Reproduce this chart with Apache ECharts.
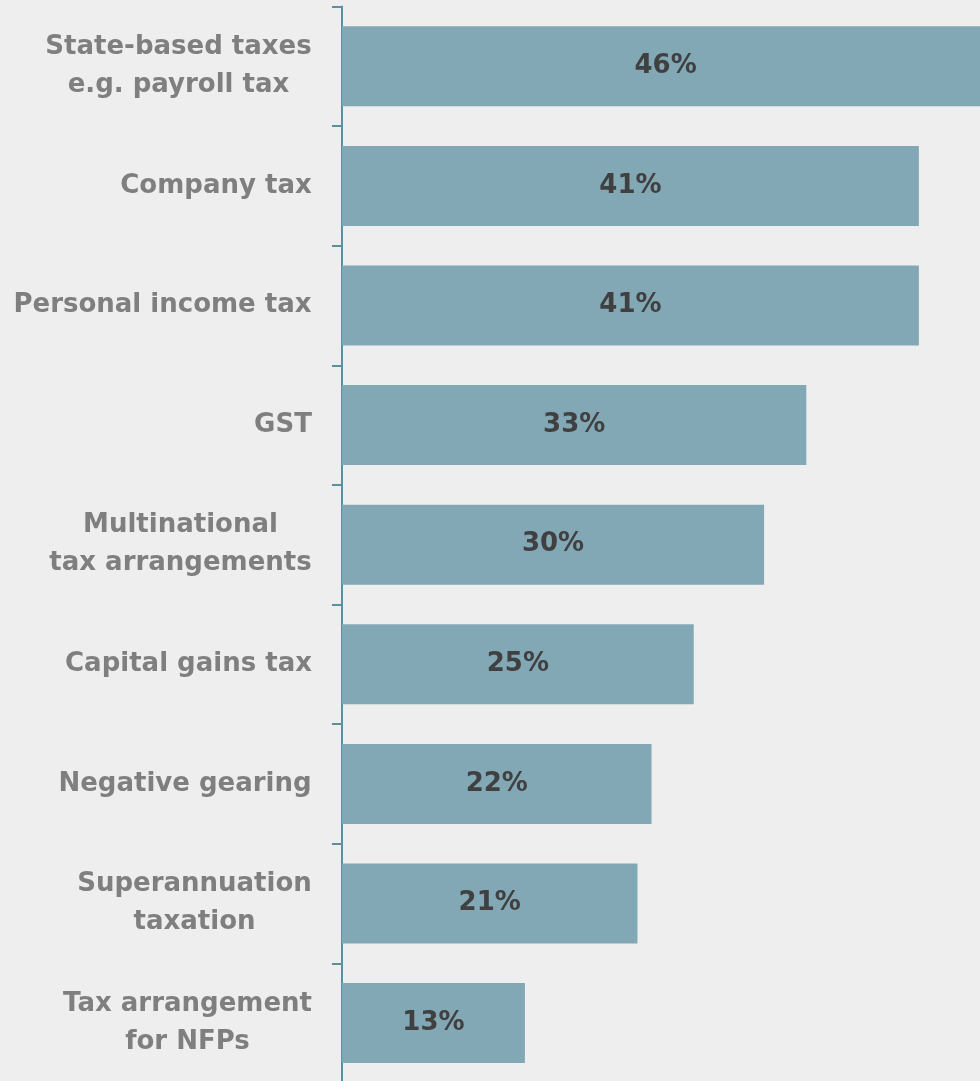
<!DOCTYPE html>
<html>
<head>
<meta charset="utf-8">
<script src="https://cdn.jsdelivr.net/npm/echarts@6/dist/echarts.min.js"></script>
<style>
  html, body { margin: 0; padding: 0; background: #eeeeee; }
  #chart { width: 980px; height: 1081px; }
</style>
</head>
<body>
<div id="chart"></div>
<script>
// Tax areas, top to bottom
const categories = [
  'State-based taxes\ne.g. payroll tax',
  'Company tax',
  'Personal income tax',
  'GST',
  'Multinational\ntax arrangements',
  'Capital gains tax',
  'Negative gearing',
  'Superannuation\ntaxation',
  'Tax arrangement\nfor NFPs'
];
// Share of respondents, percent
const values = [46, 41, 41, 33, 30, 25, 22, 21, 13];

const LABEL_FONT = { fontFamily: 'DejaVu Sans', fontWeight: 'bold', fontSize: 26, lineHeight: 38, color: '#7f7f7f' };

// Multi-line category labels sit right-aligned as a block, with each line centred inside it
const measure = document.createElement('canvas').getContext('2d');
measure.font = 'bold 26px "DejaVu Sans"';
const rich = {};
categories.forEach((name, i) => {
  const w = Math.max(...name.split('\n').map(s => measure.measureText(s).width));
  rich['l' + i] = Object.assign({ width: Math.ceil(w), align: 'center' }, LABEL_FONT);
});

const chart = echarts.init(document.getElementById('chart'), null, { renderer: 'canvas' });

chart.setOption({
  backgroundColor: '#eeeeee',
  animation: false,
  grid: {
    left: 342, top: 6.5, width: 703.5, height: 1076.4,
    containLabel: false, outerBoundsMode: 'none'
  },
  xAxis: {
    type: 'value', min: 0, max: 50, show: false
  },
  yAxis: {
    type: 'category',
    data: categories,
    inverse: true,
    axisLine: { show: true, lineStyle: { color: '#5d8fa3', width: 2 } },
    axisTick: { show: true, length: 10, lineStyle: { color: '#5d8fa3', width: 2 } },
    axisLabel: Object.assign({
      margin: 30,
      align: 'right',
      formatter: (value, index) =>
        value.split('\n').map(s => '{l' + index + '|' + s + '}').join('\n'),
      rich: rich
    }, LABEL_FONT)
  },
  series: [{
    type: 'bar',
    data: values,
    barWidth: 80,
    itemStyle: { color: '#82a8b5' },
    label: {
      show: true,
      position: 'inside',
      formatter: '{c}%',
      color: '#404040',
      fontFamily: 'DejaVu Sans',
      fontWeight: 'bold',
      fontSize: 26
    }
  }]
});
</script>
</body>
</html>
